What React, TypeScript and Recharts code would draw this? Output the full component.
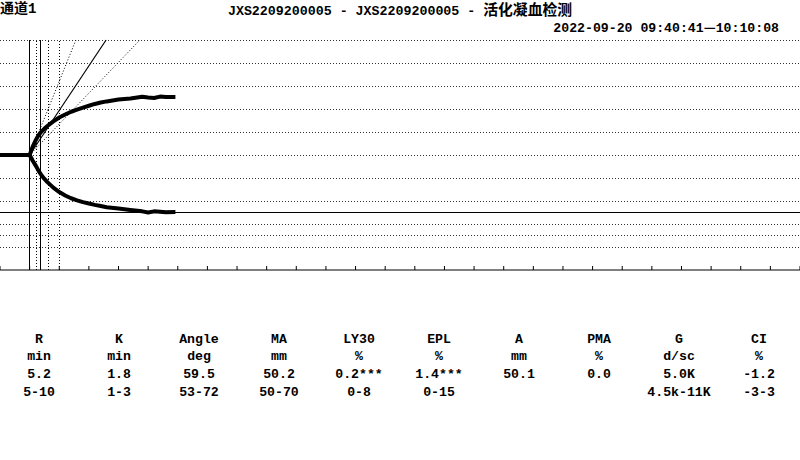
import { LineChart, Line, XAxis, YAxis, ReferenceLine } from 'recharts';

// trace, minutes vs half-amplitude in mm (upper / lower branch)
const timeMin = [0, 5.0, 5.5, 6, 6.5, 7, 7.5, 8, 9, 10, 11, 12, 13, 14, 15, 16, 17, 18, 20, 22, 24, 25, 26, 27, 28, 29.6];
const upperMm = [0, 0, 3.5, 6.3, 8.6, 10.2, 11.5, 12.6, 14.6, 16.3, 17.6, 18.8, 19.7, 20.6, 21.4, 22.2, 22.8, 23.3, 24.1, 24.6, 25.3, 25.0, 24.8, 25.4, 25.2, 25.2];
const lowerMm = [0, 0, -2.4, -4.5, -6.8, -8.8, -10.4, -11.8, -14.2, -16.1, -17.6, -18.8, -19.7, -20.5, -21.1, -21.7, -22.2, -22.7, -23.3, -23.9, -24.5, -25.0, -24.5, -24.7, -24.9, -24.8];

const xTicks = [0, 5, 10, 15, 20, 25, 30, 35, 40, 45, 50, 55, 60, 65, 70, 75, 80, 85, 90, 95, 100, 105, 110, 115, 120, 125, 130, 135];
const gridLevels = [50, 40, 30, 20, 10, 0, -10, -20, -30, -35, -40];
const maLevel = -25.1;
const rkLines = [4.95, 6.9];
const refTimeLines = [6.1, 8.1, 10];
const angleOrigin = 5.0;
const angleSolidTop = 17.9;
const angleDottedTops = [12.8, 23.6];

const paramNames = ['R', 'K', 'Angle', 'MA', 'LY30', 'EPL', 'A', 'PMA', 'G', 'CI'];
const paramUnits = ['min', 'min', 'deg', 'mm', '%', '%', 'mm', '%', 'd/sc', '%'];
const paramValues = ['5.2', '1.8', '59.5', '50.2', '0.2***', '1.4***', '50.1', '0.0', '5.0K', '-1.2'];
const paramRanges = ['5-10', '1-3', '53-72', '50-70', '0-8', '0-15', '', '', '4.5k-11K', '-3-3'];

const data = timeMin.map((t, i) => ({ t, up: upperMm[i], low: lowerMm[i] }));

const mono = "'Liberation Mono', 'Noto Sans CJK SC', monospace";
const dots = '#333';

export default function App() {
    const tableRows = [paramNames, paramUnits, paramValues, paramRanges];
    return (
        <div style={{ position: 'absolute', left: 0, top: 0, width: 800, height: 460, background: '#fff', fontFamily: mono, fontWeight: 'bold', color: '#000' }}>
            <div style={{ position: 'absolute', left: 0, top: 1, fontSize: 14, lineHeight: '16px' }}>通道1</div>
            <div style={{ position: 'absolute', left: 0, width: 800, top: 3, textAlign: 'center', fontSize: 13.3, lineHeight: '16px', whiteSpace: 'pre' }}>
                JXS2209200005 - JXS2209200005 - <span style={{ fontSize: 14.8 }}>活化凝血检测</span>
            </div>
            <div style={{ position: 'absolute', right: 21, top: 19, fontSize: 13.2, lineHeight: '16px', whiteSpace: 'pre' }}>
                2022-09-20 09:40:41<span style={{ fontFamily: "'Noto Sans CJK SC'" }}>—</span>10:10:08
            </div>

            <div style={{ position: 'absolute', left: 0, top: 0 }}>
                <LineChart width={800} height={460} data={data} margin={{ top: 40, right: 0, left: 0, bottom: 180 }}>
                    <XAxis
                        dataKey="t"
                        type="number"
                        domain={[0, 135]}
                        ticks={xTicks}
                        interval={0}
                        height={10}
                        tick={() => <g />}
                        tickSize={-4}
                        axisLine={{ stroke: '#000', strokeWidth: 1 }}
                        tickLine={{ stroke: '#000', strokeWidth: 1 }}
                    />
                    <YAxis type="number" domain={[-50, 50]} hide />
                    {gridLevels.map((v) => (
                        <ReferenceLine key={'g' + v} y={v} stroke={dots} strokeDasharray="1 2" shapeRendering="crispEdges" />
                    ))}
                    <ReferenceLine y={maLevel} stroke="#000" strokeWidth={1} shapeRendering="crispEdges" />
                    {rkLines.map((v) => (
                        <ReferenceLine key={'rk' + v} x={v} stroke="#000" strokeWidth={1} shapeRendering="crispEdges" />
                    ))}
                    {refTimeLines.map((v) => (
                        <ReferenceLine key={'rt' + v} x={v} stroke="#000" strokeDasharray="1 2" shapeRendering="crispEdges" />
                    ))}
                    {angleDottedTops.map((v) => (
                        <ReferenceLine
                            key={'a' + v}
                            segment={[{ x: angleOrigin, y: 0 }, { x: v, y: 50 }]}
                            stroke="#000"
                            strokeDasharray="1 2"
                            ifOverflow="visible"
                        />
                    ))}
                    <ReferenceLine
                        segment={[{ x: angleOrigin, y: 0 }, { x: angleSolidTop, y: 50 }]}
                        stroke="#000"
                        strokeWidth={1.2}
                        ifOverflow="visible"
                    />
                    <Line type="linear" dataKey="up" stroke="#000" strokeWidth={4} dot={false} isAnimationActive={false} strokeLinejoin="round" />
                    <Line type="linear" dataKey="low" stroke="#000" strokeWidth={4} dot={false} isAnimationActive={false} strokeLinejoin="round" />
                </LineChart>
            </div>

            {tableRows.map((row, r) =>
                row.map((txt, c) => (
                    <div
                        key={r + '-' + c}
                        style={{
                            position: 'absolute',
                            left: c * 80 - 1,
                            width: 80,
                            top: [340, 357, 375, 393][r] - 8,
                            textAlign: 'center',
                            fontSize: 13.2,
                            lineHeight: '16px',
                            whiteSpace: 'pre',
                        }}
                    >
                        {txt}
                    </div>
                ))
            )}
        </div>
    );
}
